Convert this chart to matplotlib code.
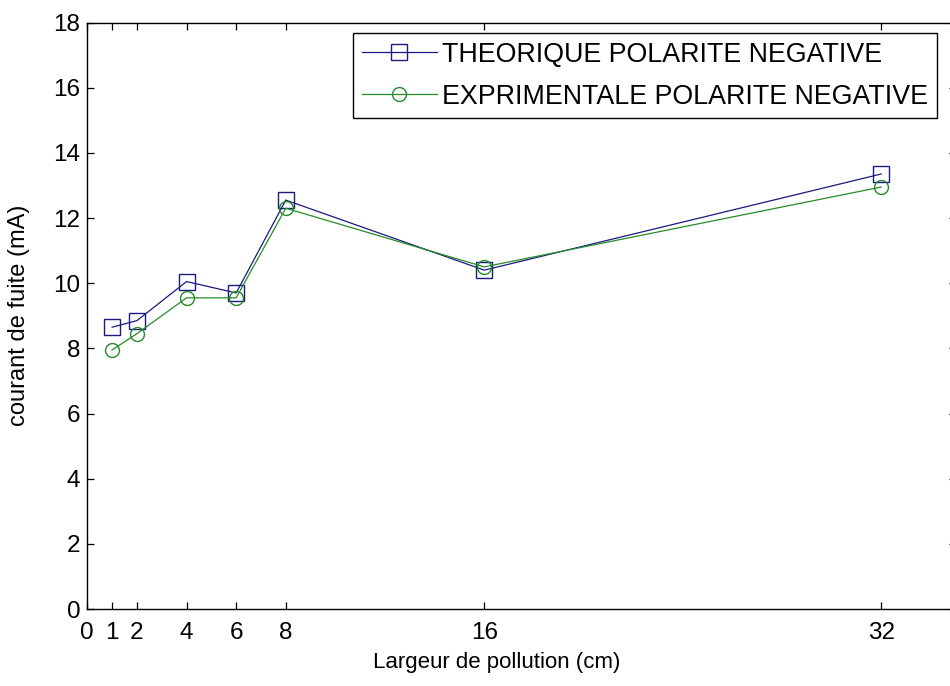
import matplotlib
matplotlib.use("Agg")
import matplotlib.pyplot as plt

plt.rcParams['font.family'] = ['Liberation Sans', 'DejaVu Sans']

largeur = [1, 2, 4, 6, 8, 16, 32]
theorique = [8.65, 8.85, 10.05, 9.7, 12.55, 10.4, 13.35]
experimentale = [7.95, 8.45, 9.55, 9.55, 12.3, 10.5, 12.95]
xticks = [0, 1, 2, 4, 6, 8, 16, 32]
yticks = [0, 2, 4, 6, 8, 10, 12, 14, 16, 18]

fig = plt.figure(figsize=(9.5, 6.86), dpi=100)
ax = fig.add_axes([0.0919, 0.1122, 0.914, 0.855])

blue = (0.1, 0.1, 0.5)
green = (0.15, 0.55, 0.15)
ax.plot(largeur, theorique, '-s', color=blue, lw=0.9, markersize=11,
        markerfacecolor='none', markeredgewidth=1.0, label='THEORIQUE POLARITE NEGATIVE')
ax.plot(largeur, experimentale, '-o', color=green, lw=0.9, markersize=10,
        markerfacecolor='none', markeredgewidth=1.0, label='EXPRIMENTALE POLARITE NEGATIVE')

ax.set_xlim(0, 35)
ax.set_ylim(0, 18)
ax.set_xticks(xticks)
ax.set_xticklabels([str(t) for t in xticks])
ax.set_yticks(yticks)
ax.tick_params(direction='in', top=True, right=True, length=5, width=0.9,
               labelsize=17.5, colors='black')
ax.tick_params(axis='x', pad=9)
ax.tick_params(axis='y', pad=5)
for s in ax.spines.values():
    s.set_linewidth(1.0)
    s.set_color('black')

ax.set_xlabel('Largeur de pollution (cm)', fontsize=16)
ax.xaxis.set_label_coords(0.471, -0.074)
ax.set_ylabel('courant de fuite (mA)', fontsize=17)
ax.yaxis.set_label_coords(-0.066, 0.5)

leg = ax.legend(loc='upper right', bbox_to_anchor=(0.9785, 0.982), fontsize=19.3,
                frameon=True, fancybox=False, framealpha=1, edgecolor='black',
                handlelength=2.8, borderpad=0.32, labelspacing=0.6, handletextpad=0.2,
                borderaxespad=0.0)
leg.get_frame().set_linewidth(1.0)

fig.savefig('out.png', dpi=100)
